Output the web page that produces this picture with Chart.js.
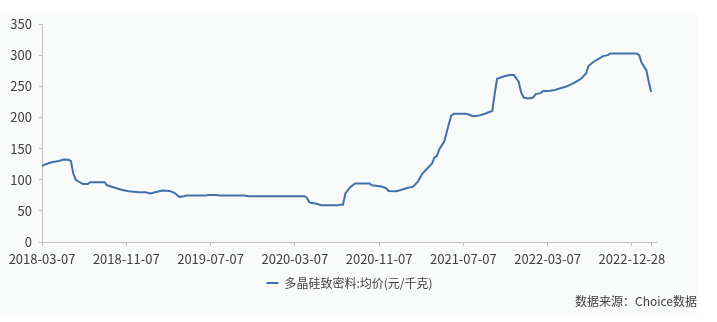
<!DOCTYPE html>
<html lang="zh">
<head>
    <meta charset="UTF-8">
    <title>多晶硅致密料均价</title>
    <script src="https://cdn.jsdelivr.net/npm/chart.js"></script>
    <style>
        body { margin: 0; background: #ffffff; }
        #wrap { position: absolute; left: 0; top: 15px; width: 699px; height: 299px; background: #f9fbfa; }
        #source { position: absolute; right: 2px; top: 277px; font: 12px "Noto Sans CJK SC", sans-serif; color: #404040; }
    </style>
</head>
<body>
    <div id="wrap">
        <canvas id="myChart" width="699" height="299"></canvas>
        <div id="source">数据来源：Choice数据</div>
    </div>
<script>
    // 周序号 (第0期 = 2018-03-07) 与 均价(元/千克)
    const weekIdx = [0, 1, 4, 7, 9, 11, 12, 13, 14, 15, 17, 19, 20, 26, 27, 28, 30, 33, 36, 40,
        43, 45, 47, 50, 53, 55, 57, 59, 60, 68, 69, 72, 74, 84, 86, 109, 110, 111, 112, 114,
        116, 123, 124, 125, 126, 128, 130, 136, 137, 141, 143, 144, 147, 149, 152, 154, 156, 158, 160, 162,
        163, 164, 165, 167, 168, 169, 170, 171, 176, 177, 179, 181, 184, 186, 187, 188, 189, 191, 194, 196,
        198, 199, 200, 202, 204, 205, 207, 208, 211, 213, 215, 218, 221, 224, 226, 227, 229, 233, 235, 236,
        247, 248, 249, 251, 252, 253];
    const price = [122, 124, 128, 130, 132.5, 132, 130, 110, 100, 97.5, 93, 93, 96, 96, 91, 90, 87.5, 84, 81.5, 80,
        80, 78, 80, 82.5, 82, 79, 72.5, 73.5, 74.5, 74.5, 75.5, 75.5, 74.5, 74.5, 73.5, 73.5, 71, 64, 62.5, 61.5,
        59, 59, 60, 60, 78, 88, 94, 94, 91, 89, 86, 82, 81.5, 83.5, 87, 88.5, 96.5, 110, 118, 126,
        136, 138, 149, 161, 175, 190, 203, 206, 206, 205, 202, 202.5, 206, 209, 210, 238, 262, 265, 268, 268,
        257, 240, 232, 230.5, 232, 237.5, 239, 242, 243, 244, 246.5, 250, 255.5, 262.5, 271, 283, 289, 298.5, 300, 302.5,
        302.5, 300, 288, 276, 257, 241];
    const tickLabels = ['2018-03-07', '2018-11-07', '2019-07-07', '2020-03-07', '2020-11-07',
        '2021-07-07', '2022-03-07', '2022-12-28'];
    const labelStep = 35;
    const lastWeek = 253;

    const textColor = '#404040';
    const axisColor = '#bfbfbf';
    const fontFamily = '"Noto Sans CJK SC", "Open Sans", sans-serif';

    // 图例居中于整张画布，而不是绘图区
    const centerLegend = {
        id: 'centerLegend',
        afterLayout(chart) {
            const shift = (chart.width - (chart.legend.right + chart.legend.left)) / 2;
            chart.legend.left += shift;
            chart.legend.right += shift;
        },
    };

    const ctx = document.getElementById('myChart');
    const myChart = new Chart(ctx, {
        type: 'line',
        data: {
            datasets: [
                {
                    label: '多晶硅致密料:均价(元/千克)',
                    data: weekIdx.map((w, i) => ({ x: w, y: price[i] })),
                    borderColor: '#4170aa',
                    backgroundColor: '#4170aa',
                    borderWidth: 2,
                    pointRadius: 0,
                    tension: 0,
                    fill: false,
                },
            ],
        },
        options: {
            responsive: false,
            animation: false,
            layout: { padding: { top: 9, right: 43, bottom: 15, left: 0 } },
            plugins: {
                tooltip: { enabled: false },
                legend: {
                    position: 'bottom',
                    labels: {
                        color: textColor,
                        font: { family: fontFamily, size: 12 },
                        usePointStyle: true,
                        pointStyle: 'line',
                        pointStyleWidth: 12,
                        padding: 10,
                    },
                },
            },
            scales: {
                x: {
                    type: 'linear',
                    min: 0,
                    max: 255,
                    afterBuildTicks: (scale) => {
                        const ticks = tickLabels.map((_, i) => ({ value: i * labelStep }));
                        ticks.push({ value: lastWeek });
                        scale.ticks = ticks;
                    },
                    afterFit: (scale) => { scale.height = 25; },
                    grid: {
                        drawOnChartArea: false,
                        drawTicks: true,
                        tickLength: 4,
                        color: axisColor,
                    },
                    border: { color: axisColor },
                    ticks: {
                        autoSkip: false,
                        maxRotation: 0,
                        padding: 5,
                        color: textColor,
                        font: { family: fontFamily, size: 13 },
                        callback: (v) => (v % labelStep === 0 ? tickLabels[v / labelStep] : ''),
                    },
                },
                y: {
                    min: 0,
                    max: 350,
                    afterFit: (scale) => {
                        scale.width = 42;
                        scale.paddingTop = 0;
                    },
                    grid: {
                        drawOnChartArea: false,
                        drawTicks: true,
                        tickLength: 3,
                        color: axisColor,
                    },
                    border: { color: axisColor },
                    ticks: {
                        stepSize: 50,
                        padding: 7,
                        color: textColor,
                        font: { family: fontFamily, size: 13 },
                    },
                },
            },
        },
        plugins: [centerLegend],
    });
</script>
</body>
</html>
